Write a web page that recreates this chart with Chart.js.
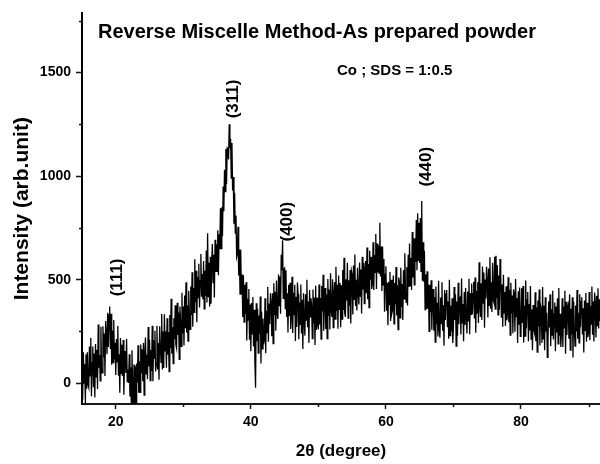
<!DOCTYPE html>
<html>
<head>
<meta charset="utf-8">
<script src="https://cdn.jsdelivr.net/npm/chart.js@4.4.0/dist/chart.umd.min.js"></script>
<style>
  html, body { margin: 0; padding: 0; background: #fff; }
  #wrap { width: 600px; height: 464px; }
</style>
</head>
<body>
<div id="wrap"><canvas id="xrdChart" width="600" height="464"></canvas></div>
<script>
// scan: 2theta from 15.0 in 0.1 degree steps
const twoThetaStart = 15.0;
const twoThetaStep = 0.1;

// intensity, one row per degree (15..91)
const intensity = [
  120,-78,150,1,93,-95,140,-26,150,-7,
  -20,178,36,219,-63,100,178,-19,144,-68,
  190,31,162,-27,284,75,136,12,273,64,
  50,275,125,240,35,300,235,140,340,175,
  330,370,165,335,90,255,100,305,115,195,
  40,214,103,277,36,140,-46,218,47,186,
  35,209,-55,107,156,50,214,8,66,1,
  140,-64,77,-98,159,-26,-110,90,-105,82,
  -105,96,3,183,-46,105,-44,187,48,164,
  10,194,-57,147,221,45,139,20,272,81,
  210,13,161,59,277,10,208,121,254,57,
  95,278,66,194,17,275,188,101,334,67,
  250,74,333,157,251,75,314,138,247,56,
  330,169,408,142,271,95,314,213,377,186,
  170,389,233,342,116,370,304,178,437,241,
  370,182,424,266,488,245,377,204,446,343,
  260,467,329,536,273,460,342,599,391,543,
  295,514,413,577,366,495,624,418,527,406,
  590,359,543,422,641,390,724,418,582,371,
  610,384,573,672,486,620,414,693,537,671,
  540,738,521,719,647,845,650,850,710,950,
  830,1030,925,1130,960,1135,1130,1080,1250,1135,
  1180,990,1160,930,995,770,920,725,810,610,
  625,755,520,645,430,645,430,525,320,520,
  295,475,335,488,206,409,305,455,210,380,
  155,387,239,416,178,355,102,-21,386,203,
  360,146,327,238,419,95,346,166,312,188,
  210,410,145,350,245,465,200,385,285,435,
  385,227,434,191,483,330,442,254,496,338,
  310,525,375,515,335,620,545,690,410,550,
  555,360,545,320,435,245,475,325,485,262,
  315,514,243,437,331,475,204,418,272,486,
  430,213,391,284,477,240,403,166,434,307,
  230,430,305,500,270,395,195,450,320,410,
  375,216,452,288,414,185,471,257,413,279,
  260,477,284,411,213,470,347,524,254,403,
  460,262,429,216,503,325,452,259,531,353,
  320,502,269,431,488,310,562,349,476,263,
  520,357,484,271,473,310,547,354,606,338,
  320,502,400,582,315,497,374,547,289,542,
  525,332,568,405,621,373,499,351,557,434,
  380,583,421,549,337,610,453,581,384,552,
  590,435,655,405,575,365,640,500,610,455,
  480,680,450,620,535,720,455,675,535,665,
  530,775,515,660,445,660,475,600,345,525,
  565,350,485,280,490,380,537,300,500,340,
  355,520,287,484,380,561,327,473,259,510,
  490,316,557,368,479,305,546,407,628,439,
  390,560,375,620,465,675,470,605,450,730,
  510,700,475,700,585,788,545,820,590,775,
  580,797,540,880,495,680,490,640,355,525,
  360,540,360,475,250,475,343,497,258,420,
  455,253,416,199,467,285,388,226,495,258,
  220,414,288,487,253,377,181,450,305,430,
  450,270,395,215,500,230,375,250,410,195,
  270,465,305,430,180,395,230,485,285,410,
  415,236,506,292,383,203,440,281,460,315,
  240,443,301,504,237,435,333,481,334,432,
  490,313,511,244,447,340,488,291,584,372,
  320,483,306,564,387,535,268,501,409,562,
  495,317,554,376,608,360,487,344,581,403,
  390,610,358,615,410,570,330,520,355,600,
  520,316,477,273,524,340,441,277,468,304,
  335,512,294,451,233,485,337,424,241,453,
  430,249,503,322,411,195,444,283,462,226,
  260,458,291,469,197,375,228,496,264,402,
  440,203,382,255,469,213,356,160,378,261,
  245,439,203,367,151,400,274,453,182,376,
  360,195,465,215,375,160,415,250,340,125,
  195,395,269,429,179,357,232,447,211,335,
  390,155,370,245,410,190,460,230,335,175,
  245,410,175,371,267,447,143,393,233,359,
  375,215,430,160,360,235,415,125,395,270,
  180,375,250,450,215,340,195,430,270,395,
  415,236,362,148,399,255,436,201,388,223,
  245,441,208,374,286,467,234,395,202,438,
  385,221,422,278,459,265,406,301
];

const xTickValues = [20, 40, 60, 80];
const xMinorTicks = [30, 50, 70, 90];
const yTickValues = [0, 500, 1000, 1500];
const yMinorTicks = [250, 750, 1250, 1750];

// peak indexing labels and where they sit (in 2theta / intensity units)
const peakLabels = ['(111)', '(311)', '(400)', '(440)'];
const peakLabelTheta = [20.15, 37.2, 45.3, 65.8];
const peakLabelIntensity = [511, 1372, 780, 1045];

const chartTitle = 'Reverse Miscelle Method-As prepared powder';
const sampleNote = 'Co ; SDS = 1:0.5';

const FONT = '"Liberation Sans", Arial, Helvetica, sans-serif';

const points = intensity.map(function(v, i) {
  return { x: +(twoThetaStart + i * twoThetaStep).toFixed(1), y: v };
});

// minor ticks, title, note and peak labels
const extrasPlugin = {
  id: 'extras',
  afterDraw: function(chart) {
    const ctx = chart.ctx;
    const xs = chart.scales.x;
    const ys = chart.scales.y;
    const area = chart.chartArea;
    ctx.save();
    ctx.strokeStyle = '#111';
    ctx.lineWidth = 1.5;
    ctx.beginPath();
    yMinorTicks.forEach(function(v) {
      const py = Math.round(ys.getPixelForValue(v)) + 0.5;
      ctx.moveTo(area.left - 3, py);
      ctx.lineTo(area.left, py);
    });
    xMinorTicks.forEach(function(v) {
      const px = Math.round(xs.getPixelForValue(v)) + 0.5;
      ctx.moveTo(px, area.bottom);
      ctx.lineTo(px, area.bottom + 3);
    });
    ctx.stroke();

    ctx.fillStyle = '#000';
    ctx.textBaseline = 'alphabetic';
    ctx.textAlign = 'left';
    ctx.font = 'bold 20px ' + FONT;
    ctx.fillText(chartTitle, area.left + 16, 38);
    ctx.font = 'bold 15px ' + FONT;
    ctx.fillText(sampleNote, 337, 75);

    ctx.font = 'bold 17px ' + FONT;
    ctx.textAlign = 'center';
    ctx.textBaseline = 'middle';
    peakLabels.forEach(function(t, i) {
      const px = xs.getPixelForValue(peakLabelTheta[i]);
      const py = ys.getPixelForValue(peakLabelIntensity[i]);
      ctx.save();
      ctx.translate(px, py);
      ctx.rotate(-Math.PI / 2);
      ctx.fillText(t, 0, 1);
      ctx.restore();
    });
    ctx.restore();
  }
};

const ctx = document.getElementById('xrdChart').getContext('2d');
new Chart(ctx, {
  type: 'line',
  data: {
    datasets: [{
      data: points,
      borderColor: '#000',
      borderWidth: 1.3,
      pointRadius: 0,
      tension: 0,
      fill: false
    }]
  },
  options: {
    responsive: false,
    animation: false,
    layout: { padding: { top: 12, left: 0, right: 0, bottom: 0 } },
    plugins: {
      legend: { display: false },
      tooltip: { enabled: false }
    },
    scales: {
      x: {
        type: 'linear',
        min: 15,
        max: 91.7,
        afterBuildTicks: function(s) { s.ticks = xTickValues.map(function(v) { return { value: v }; }); },
        afterFit: function(s) { s.height = 60; },
        border: { display: true, color: '#1a1a1a', width: 2 },
        grid: { drawOnChartArea: false, drawTicks: true, tickLength: 5, tickColor: '#111', tickWidth: 1.5 },
        ticks: {
          color: '#000',
          padding: 5,
          maxRotation: 0,
          callback: function(v) { return String(v); },
          font: { family: FONT, size: 14, weight: 'bold' }
        },
        title: {
          display: true,
          text: '2θ (degree)',
          color: '#000',
          padding: { top: 0, bottom: 4 },
          font: { family: FONT, size: 17, weight: 'bold', lineHeight: 1 }
        }
      },
      y: {
        min: -100,
        max: 1785,
        afterBuildTicks: function(s) { s.ticks = yTickValues.map(function(v) { return { value: v }; }); },
        afterFit: function(s) { s.width = 82; },
        border: { display: true, color: '#000', width: 2 },
        grid: { drawOnChartArea: false, drawTicks: true, tickLength: 6, tickColor: '#111', tickWidth: 1.5 },
        ticks: {
          color: '#000',
          padding: 5,
          callback: function(v) { return String(v); },
          font: { family: FONT, size: 14, weight: 'bold' }
        },
        title: {
          display: true,
          text: 'Intensity (arb.unit)',
          color: '#000',
          padding: { top: 12, bottom: 0 },
          font: { family: FONT, size: 21, weight: 'bold', lineHeight: 1 }
        }
      }
    }
  },
  plugins: [extrasPlugin]
});
</script>
</body>
</html>
